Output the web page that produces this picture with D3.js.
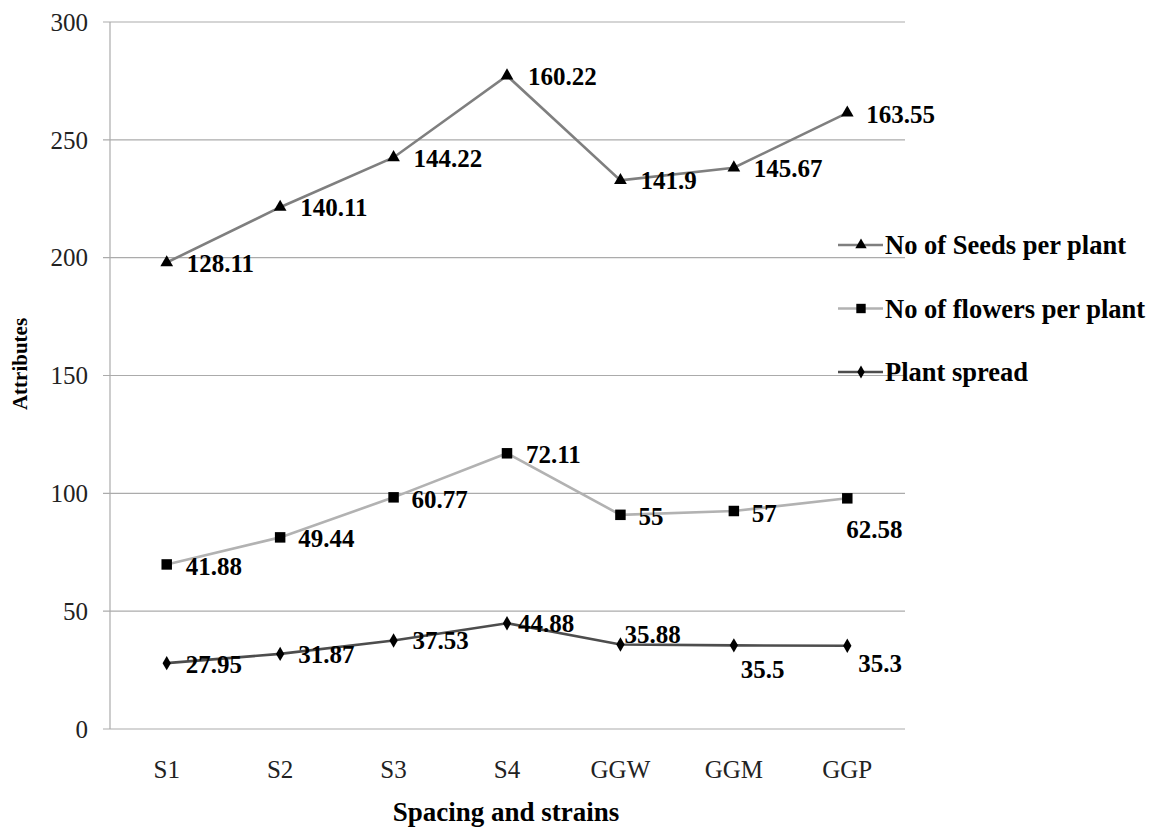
<!DOCTYPE html>
<html>
<head>
<meta charset="utf-8">
<script src="https://cdn.jsdelivr.net/npm/d3@7"></script>
<style>
  body { margin: 0; background: #fff; }
  svg text { font-family: "Liberation Serif", "Times New Roman", serif; }
</style>
</head>
<body>
<svg id="chart" width="1153" height="829"></svg>
<script>
var categories = ["S1", "S2", "S3", "S4", "GGW", "GGM", "GGP"];
var spread = [27.95, 31.87, 37.53, 44.88, 35.88, 35.5, 35.3];
var flowers = [41.88, 49.44, 60.77, 72.11, 55, 57, 62.58];
var seeds = [128.11, 140.11, 144.22, 160.22, 141.9, 145.67, 163.55];
var yTicks = [0, 50, 100, 150, 200, 250, 300];

(function() {

  // label placement per point (dx, dy from marker)
  var spreadLab = [[19, 1], [18, 0], [19, 0], [11, 0], [4, -10], [7, 24], [11, 17]];
  var flowersLab = [[19, 2], [18, 1], [18, 2], [19, 1], [18, 1], [18, 2], [-1, 31]];
  var seedsLab = [[20, 1], [20, 0], [20, 1], [21, 1], [20, 0], [20, 1], [19, 1]];

  var series = [
    { name: "No of Seeds per plant", key: "seeds", values: seeds, color: "#7f7f7f", marker: d3.symbolTriangle, msize: 70, lab: seedsLab },
    { name: "No of flowers per plant", key: "flowers", values: flowers, color: "#b2b2b2", marker: d3.symbolSquare, msize: 110, lab: flowersLab },
    { name: "Plant spread", key: "spread", values: spread, color: "#4d4d4d", marker: d3.symbolDiamond, msize: 60, lab: spreadLab }
  ];

  var svg = d3.select("#chart");
  var pLeft = 110, pRight = 904, pTop = 22, pBottom = 729;

  var rows = categories.map(function(c, i) {
    return { cat: c, spread: spread[i], flowers: flowers[i], seeds: seeds[i] };
  });
  // Excel "stacked line": each series sits on top of the one below
  var stacked = d3.stack().keys(["spread", "flowers", "seeds"])(rows);
  var stackByKey = {};
  stacked.forEach(function(s) { stackByKey[s.key] = s; });

  var x = d3.scaleBand().domain(categories).range([pLeft, pRight]);
  var y = d3.scaleLinear().domain([0, 300]).range([pBottom, pTop]);
  var cx = function(c) { return x(c) + x.bandwidth() / 2; };

  // gridlines
  svg.append("g")
    .selectAll("line")
    .data(yTicks)
    .join("line")
      .attr("x1", pLeft - 7)
      .attr("x2", pRight + 1)
      .attr("y1", function(d) { return y(d); })
      .attr("y2", function(d) { return y(d); })
      .attr("stroke", "#ababab")
      .attr("stroke-width", 1.2);

  svg.append("line")
    .attr("x1", pLeft).attr("x2", pLeft)
    .attr("y1", pTop).attr("y2", pBottom)
    .attr("stroke", "#ababab")
    .attr("stroke-width", 1.2);

  svg.append("g")
    .selectAll("text")
    .data(yTicks)
    .join("text")
      .attr("x", 88)
      .attr("y", function(d) { return y(d); })
      .attr("dy", "0.35em")
      .attr("text-anchor", "end")
      .style("font-size", "25px")
      .style("fill", "#222")
      .text(function(d) { return d; });

  svg.append("g")
    .selectAll("text")
    .data(categories)
    .join("text")
      .attr("x", function(d) { return cx(d); })
      .attr("y", 778)
      .attr("text-anchor", "middle")
      .style("font-size", "25px")
      .style("fill", "#222")
      .text(function(d) { return d; });

  svg.append("text")
    .attr("x", 506)
    .attr("y", 821)
    .attr("text-anchor", "middle")
    .style("font-size", "27px")
    .style("font-weight", "bold")
    .text("Spacing and strains");

  svg.append("text")
    .attr("transform", "translate(27,364) rotate(-90)")
    .attr("text-anchor", "middle")
    .style("font-size", "21px")
    .style("font-weight", "bold")
    .text("Attributes");

  var line = d3.line()
    .x(function(d) { return cx(d.data.cat); })
    .y(function(d) { return y(d[1]); });

  // draw bottom series first
  series.slice().reverse().forEach(function(s) {
    var pts = stackByKey[s.key];
    var g = svg.append("g");

    g.append("path")
      .datum(pts)
      .attr("d", line)
      .attr("fill", "none")
      .attr("stroke", s.color)
      .attr("stroke-width", 2.6);

    g.selectAll("path.mk")
      .data(pts)
      .join("path")
        .attr("class", "mk")
        .attr("d", d3.symbol().type(s.marker).size(s.msize))
        .attr("transform", function(d) { return "translate(" + cx(d.data.cat) + "," + y(d[1]) + ")"; })
        .attr("fill", "#000");

    g.selectAll("text")
      .data(pts)
      .join("text")
        .attr("x", function(d, i) { return cx(d.data.cat) + s.lab[i][0]; })
        .attr("y", function(d, i) { return y(d[1]) + s.lab[i][1]; })
        .attr("dy", "0.35em")
        .style("font-size", "25px")
        .style("font-weight", "bold")
        .style("fill", "#000")
        .text(function(d, i) { return s.values[i]; });
  });

  // legend
  var legend = svg.append("g")
    .selectAll("g")
    .data(series)
    .join("g")
      .attr("transform", function(d, i) { return "translate(838," + (245 + i * 63.5) + ")"; });

  legend.append("line")
    .attr("x1", 0).attr("x2", 45)
    .attr("stroke", function(d) { return d.color; })
    .attr("stroke-width", 2.6);

  legend.append("path")
    .attr("d", function(d) { return d3.symbol().type(d.marker).size(d.msize * 0.8)(); })
    .attr("transform", "translate(23,0)")
    .attr("fill", "#000");

  legend.append("text")
    .attr("x", 47)
    .attr("dy", "0.35em")
    .style("font-size", "26.5px")
    .style("font-weight", "bold")
    .text(function(d) { return d.name; });

})();
</script>
</body>
</html>
